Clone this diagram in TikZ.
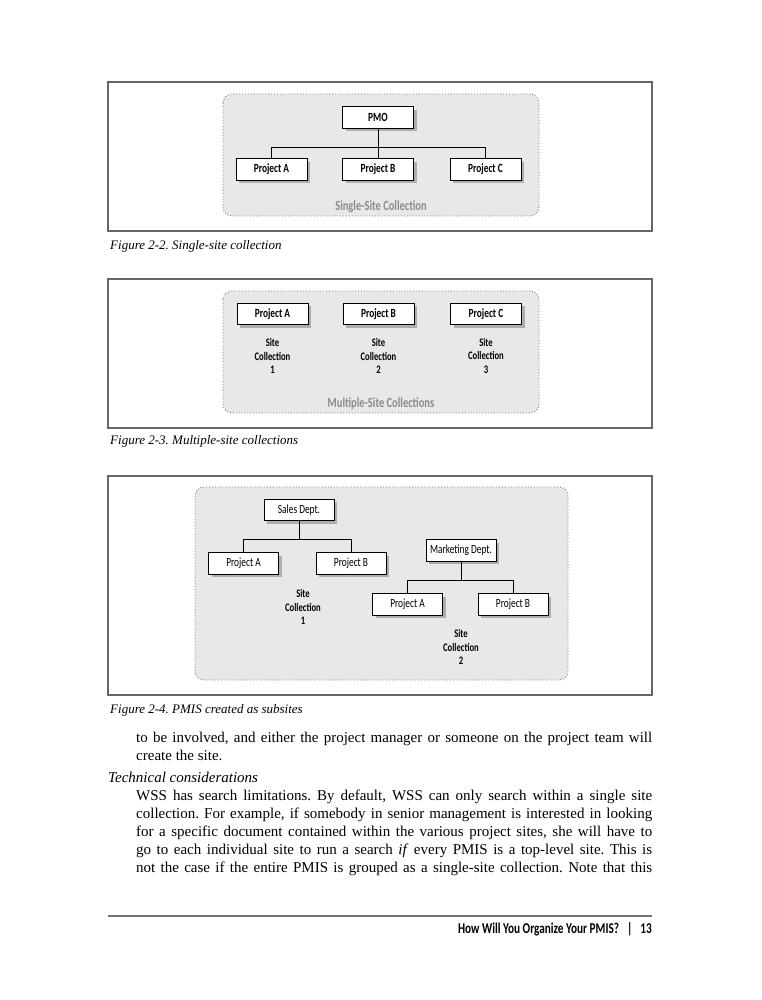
\documentclass[tikz,border=0pt]{standalone}
\usepackage{fontspec}
\setmainfont{Liberation Serif}
\newfontfamily\figfont[FakeStretch=0.75]{Carlito}
\usetikzlibrary{shadows}
\frenchspacing

\tikzset{
  projbox/.style={draw=black,line width=.8pt,fill=white,minimum width=71pt,minimum height=21.5pt,inner sep=0pt,
    font=\figfont\bfseries\fontsize{12.5}{12.5}\selectfont,
    drop shadow={shadow xshift=3pt,shadow yshift=-3pt,fill=black!50,opacity=.55}},
  deptbox/.style={projbox,minimum width=70pt,font=\figfont\fontsize{12.5}{12.5}\selectfont},
  sitelabel/.style={align=center,inner sep=0pt,font=\figfont\bfseries\fontsize{11.5}{13.5}\selectfont},
  greylabel/.style={inner sep=0pt,text=black!45,font=\figfont\bfseries\fontsize{14}{14}\selectfont},
  collbox/.style={draw=black!55,dotted,line width=.9pt,fill=black!9,rounded corners=9pt},
  figframe/.style={draw=black!60,line width=1.2pt},
  caption/.style={anchor=base west,inner sep=0pt,font=\itshape\fontsize{13}{13}\selectfont},
  bodyline/.style={anchor=base west,inner sep=0pt,font=\fontsize{15}{18}\selectfont},
  link/.style={draw=black,line width=.8pt}
}

\begin{document}
\begin{tikzpicture}[x=1pt,y=-1pt]

\useasboundingbox (0,0) rectangle (761,1000);
\fill [white] (0,0) rectangle (761,1000);

% Figure 2-2
\draw [figframe] (108,82) rectangle (652,231);
\draw [collbox] (223,94) rectangle (539,216);

\node [projbox] (pmo) at (378,117.5) {PMO};
\node [projbox] (sspa) at (271.5,169.5) {Project A};
\node [projbox] (sspb) at (378,169.5) {Project B};
\node [projbox] (sspc) at (485.5,169.5) {Project C};

\draw [link] (pmo.south) -- ++(0,18.5) -| (sspa.north);
\draw [link] (pmo.south) -- (sspb.north);
\draw [link] (pmo.south) -- ++(0,18.5) -| (sspc.north);

\node [greylabel] (sslabel) at (381,207) {Single-Site Collection};

\node [caption] (cap22) at (110,249) {Figure 2-2. Single-site collection};

% Figure 2-3
\draw [figframe] (108,279) rectangle (652,428);
\draw [collbox] (223,291) rectangle (539,413);

\node [projbox] (mspa) at (272.5,314) {Project A};
\node [projbox] (mspb) at (378.5,314) {Project B};
\node [projbox] (mspc) at (486,314) {Project C};

\node [sitelabel] (msone) at (272.5,356) {Site\\Collection\\1};
\node [sitelabel] (mstwo) at (378.5,356) {Site\\Collection\\2};
\node [sitelabel] (msthree) at (486,356) {Site\\Collection\\3};

\node [greylabel] (mslabel) at (381,404) {Multiple-Site Collections};

\node [caption] (cap23) at (110,444) {Figure 2-3. Multiple-site collections};

% Figure 2-4
\draw [figframe] (108,476) rectangle (652,695);
\draw [collbox] (195,487) rectangle (568,680);

\node [deptbox] (sales) at (299,510) {Sales Dept.};
\node [deptbox] (salpa) at (243.5,563.5) {Project A};
\node [deptbox] (salpb) at (351,563.5) {Project B};

\draw [link] (sales.south) -- ++(0,18.5) -| (salpa.north);
\draw [link] (sales.south) -- ++(0,18.5) -| (salpb.north);

\node [deptbox] (mkt) at (461,550.5) {Marketing Dept.};
\node [deptbox] (mktpa) at (407.5,604.5) {Project A};
\node [deptbox] (mktpb) at (513,604.5) {Project B};

\draw [link] (mkt.south) -- ++(0,18.5) -| (mktpa.north);
\draw [link] (mkt.south) -- ++(0,18.5) -| (mktpb.north);

\node [sitelabel] (subone) at (303,607) {Site\\Collection\\1};
\node [sitelabel] (subtwo) at (461,647) {Site\\Collection\\2};

\node [caption] (cap24) at (110,713) {Figure 2-4. PMIS created as subsites};

% body text
\node [bodyline] (ln1) at (136,742) {\makebox[516pt][s]{to be involved, and either the project manager or someone on the project team will}};
\node [bodyline] (ln2) at (136,760) {create the site.};
\node [bodyline,font=\itshape\fontsize{15}{18}\selectfont] (ln3) at (108,782) {Technical considerations};
\node [bodyline] (ln4) at (136,800) {\makebox[516pt][s]{WSS has search limitations. By default, WSS can only search within a single site}};
\node [bodyline] (ln5) at (136,818) {\makebox[516pt][s]{collection. For example, if somebody in senior management is interested in looking}};
\node [bodyline] (ln6) at (136,836) {\makebox[516pt][s]{for a specific document contained within the various project sites, she will have to}};
\node [bodyline] (ln7) at (136,854) {\makebox[516pt][s]{go to each individual site to run a search \emph{if} every PMIS is a top-level site. This is}};
\node [bodyline] (ln8) at (136,872) {\makebox[516pt][s]{not the case if the entire PMIS is grouped as a single-site collection. Note that this}};

% running foot
\draw [black!55,line width=1.2pt] (108,916) -- (652,916);
\node [anchor=base east,inner sep=0pt,font=\figfont\bfseries\fontsize{15}{15}\selectfont] (folio) at (652,933) {How Will You Organize Your PMIS?\hspace{8pt}|\hspace{8pt}13};

\end{tikzpicture}
\end{document}
